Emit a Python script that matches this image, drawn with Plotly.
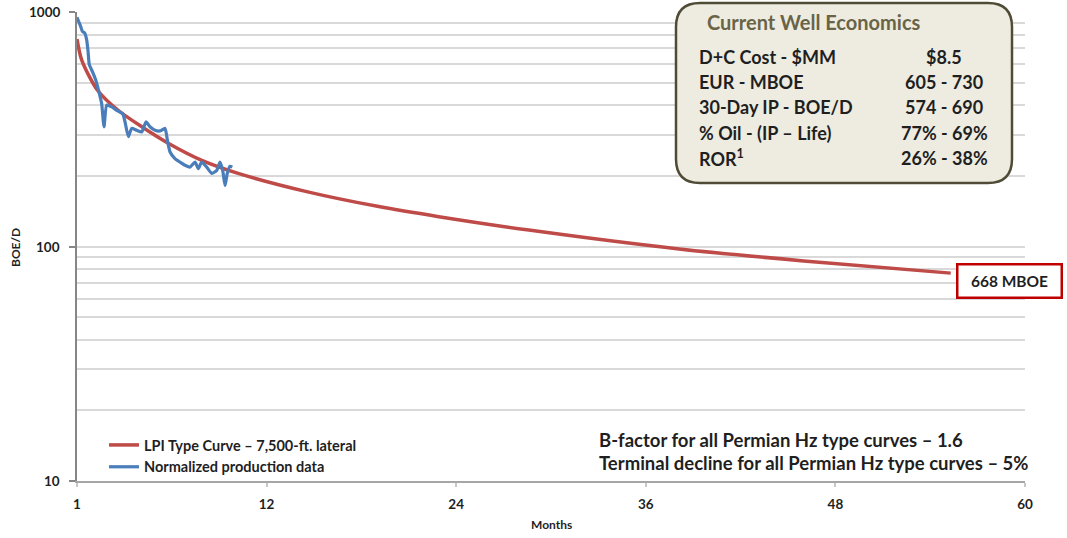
import math
import plotly.graph_objects as go

# ---- data -------------------------------------------------------------
# LPI type curve (BOE/D by month on production)
type_months = [0, 0.3, 1.3, 2.6, 4.1, 5.8, 7.9, 10.2, 14.6, 19.1, 22.9, 28.6, 38.1, 46.0, 55.3]
type_rate = [767, 624, 464, 381, 324, 275, 233, 205, 171, 148, 134, 117.5, 97.6, 86.8, 77]

# Normalized production data
prod_months = [0, 0.1, 0.23, 0.34, 0.49, 0.61, 0.7, 0.78, 0.97, 1.18, 1.33, 1.46,
               1.56, 1.71, 1.88, 2.2, 2.51, 2.89, 3.04, 3.25, 3.46, 3.78, 4.1,
               4.37, 4.62, 4.94, 5.25, 5.57, 5.72, 5.89, 6.2, 6.52, 6.84, 7.15,
               7.47, 7.68, 7.89, 8.21, 8.53, 8.84, 9.05, 9.22, 9.37, 9.51, 9.68, 9.83]
prod_rate = [949, 912, 869, 827, 813, 762, 679, 596, 558, 514, 473, 436,
             407, 324, 401, 394, 381, 369, 340, 294, 319, 313, 308,
             340, 324, 313, 311, 319, 284, 253, 237, 229, 222, 218,
             229, 215, 229, 218, 205, 211, 229, 211, 182, 205, 220, 218]

x_ticks = [0, 12, 24, 36, 48, 60]
x_tick_labels = ["<b>1</b>", "<b>12</b>", "<b>24</b>", "<b>36</b>", "<b>48</b>", "<b>60</b>"]
y_ticks = [10, 100, 1000]
y_tick_labels = ["10", "100", "1000"]

econ_labels = ["D+C Cost - $MM", "EUR - MBOE", "30-Day IP - BOE/D",
               "% Oil - (IP \u2013 Life)", "ROR<sup>1</sup>"]
econ_values = ["$8.5", "605 - 730", "574 - 690", "77% - 69%", "26% - 38%"]
eur_label = "668 MBOE"
notes = ["B-factor for all Permian Hz type curves \u2013 1.6",
         "Terminal decline for all Permian Hz type curves \u2013 5%"]

# ---- geometry helpers (pixel -> paper) --------------------------------
W, H = 1067, 538
L, R, T, B = 77, 1025, 12, 481


def px(x):
    return (x - L) / (R - L)


def py(y):
    return (B - y) / (B - T)


FONT = "Lato, Open Sans, sans-serif"
TXT = "#1f1f1f"
RED = "#BE4B48"
BLUE = "#4A7EBB"

fig = go.Figure()
fig.add_trace(go.Scatter(
    x=type_months, y=type_rate, mode="lines",
    name="LPI Type Curve \u2013 7,500-ft. lateral",
    line=dict(color=RED, width=3.5, shape="spline", smoothing=0.8),
))
fig.add_trace(go.Scatter(
    x=prod_months, y=prod_rate, mode="lines",
    name="Normalized production data",
    line=dict(color=BLUE, width=3.2, shape="spline", smoothing=0.5),
))

# ---- economics panel --------------------------------------------------
bx0, bx1, by0, by1, r = 676, 1012, 3, 183, 24
path = (
    f"M {px(bx0 + r)},{py(by0)} L {px(bx1 - r)},{py(by0)} "
    f"Q {px(bx1)},{py(by0)} {px(bx1)},{py(by0 + r)} "
    f"L {px(bx1)},{py(by1 - r)} Q {px(bx1)},{py(by1)} {px(bx1 - r)},{py(by1)} "
    f"L {px(bx0 + r)},{py(by1)} Q {px(bx0)},{py(by1)} {px(bx0)},{py(by1 - r)} "
    f"L {px(bx0)},{py(by0 + r)} Q {px(bx0)},{py(by0)} {px(bx0 + r)},{py(by0)} Z"
)
shapes = [dict(type="path", path=path, xref="paper", yref="paper",
               fillcolor="#EEECE1", line=dict(color="#4F4B35", width=2.5),
               layer="above")]

annotations = [dict(x=px(705), y=py(22), xref="paper", yref="paper",
                    text="<b>Current Well Economics</b>", showarrow=False,
                    xanchor="left", yanchor="middle",
                    font=dict(family=FONT, size=20, color="#6A6446"))]
row_y = [57, 82, 107, 133, 158]
for lab, val, yy in zip(econ_labels, econ_values, row_y):
    annotations.append(dict(x=px(697), y=py(yy), xref="paper", yref="paper",
                            text=f"<b>{lab}</b>", showarrow=False, xanchor="left",
                            yanchor="middle",
                            font=dict(family=FONT, size=18, color=TXT)))
    annotations.append(dict(x=px(944), y=py(yy), xref="paper", yref="paper",
                            text=f"<b>{val}</b>", showarrow=False, xanchor="center",
                            yanchor="middle",
                            font=dict(family=FONT, size=18, color=TXT)))

# EUR callout at the end of the type curve
annotations.append(dict(x=px(1009), y=py(281), xref="paper", yref="paper",
                        text=f"<b>{eur_label}</b>", showarrow=False,
                        xanchor="center", yanchor="middle",
                        width=98, height=27,
                        bgcolor="white", bordercolor="#C00000", borderwidth=2.5,
                        borderpad=2,
                        font=dict(family=FONT, size=15.5, color=TXT)))

# Notes
for txt, yy in zip(notes, [440, 463]):
    annotations.append(dict(x=px(597), y=py(yy), xref="paper", yref="paper",
                            text=f"<b>{txt}</b>", showarrow=False, xanchor="left",
                            yanchor="middle",
                            font=dict(family=FONT, size=18.5, color=TXT)))

# Axis titles
annotations.append(dict(x=px(551), y=py(524), xref="paper", yref="paper",
                        text="<b>Months</b>", showarrow=False,
                        xanchor="center", yanchor="middle",
                        font=dict(family=FONT, size=12, color=TXT)))
annotations.append(dict(x=px(15), y=py(247), xref="paper", yref="paper",
                        text="<b>BOE/D</b>", showarrow=False, textangle=-90,
                        xanchor="center", yanchor="middle",
                        font=dict(family=FONT, size=12, color=TXT)))

# Y tick labels (log axis: annotation y is given in log10 units)
for v, lab in zip(y_ticks, y_tick_labels):
    annotations.append(dict(x=px(62), y=math.log10(v), xref="paper", yref="y",
                            text=f"<b>{lab}</b>", showarrow=False,
                            xanchor="right", yanchor="middle",
                            font=dict(family=FONT, size=13.5, color=TXT)))

fig.update_layout(
    width=W, height=H, autosize=False,
    margin=dict(l=L, r=W - R, t=T, b=H - B, pad=0),
    paper_bgcolor="white", plot_bgcolor="white",
    font=dict(family=FONT, color=TXT),
    showlegend=True,
    legend=dict(x=px(104), y=py(429), xanchor="left", yanchor="top",
                bgcolor="rgba(0,0,0,0)", itemwidth=30, tracegroupgap=0,
                font=dict(family=FONT, size=14.5, color=TXT, weight="bold")),
    shapes=shapes,
    annotations=annotations,
)

fig.update_xaxes(
    range=[0, 60], tickvals=x_ticks, ticktext=x_tick_labels,
    showgrid=False, zeroline=False, automargin=False,
    showline=True, linecolor="#A6A6A6", linewidth=2,
    ticks="outside", ticklen=4, tickcolor="#C8C8C8", tickwidth=1.5,
    ticklabelstandoff=6,
    tickfont=dict(family=FONT, size=13.5, color=TXT),
)
fig.update_yaxes(
    type="log", range=[1, 3], tickvals=y_ticks, showticklabels=False,
    showgrid=True, gridcolor="#D9D9D9", gridwidth=1.5, automargin=False,
    minor=dict(showgrid=True, gridcolor="#D9D9D9", gridwidth=1.5,
               dtick="D1", ticks=""),
    showline=True, linecolor="#868686", linewidth=2,
    ticks="outside", ticklen=6, tickcolor="#868686", tickwidth=1.5,
)

fig.write_html("out.html")
